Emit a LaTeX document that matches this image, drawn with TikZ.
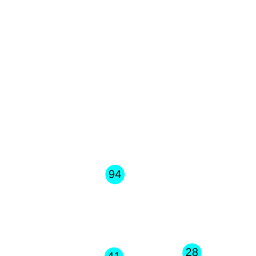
\documentclass[tikz,border=0pt]{standalone}
\usepackage{fontspec}
\setmainfont{Liberation Sans}
\usepackage{tikz}
\usetikzlibrary{positioning}
\definecolor{nodecyan}{RGB}{0,255,255}

\begin{document}
\begin{tikzpicture}[x=1pt, y=-1pt,
  vertex/.style={circle, fill=nodecyan, draw=none, minimum size=19.5pt, inner sep=0pt,
                 font=\fontsize{11.3}{11.3}\selectfont, text=black}]
% frame of the picture
\useasboundingbox (0,0) rectangle (256,256);
\clip (0,0) rectangle (256,256);
% vertices
\node[vertex] (n94) at (115,174.5) {94};
\node[vertex] (n41) at (114,257) {41};
\node[vertex] (n28) at (192,253) {28};
\end{tikzpicture}
\end{document}
